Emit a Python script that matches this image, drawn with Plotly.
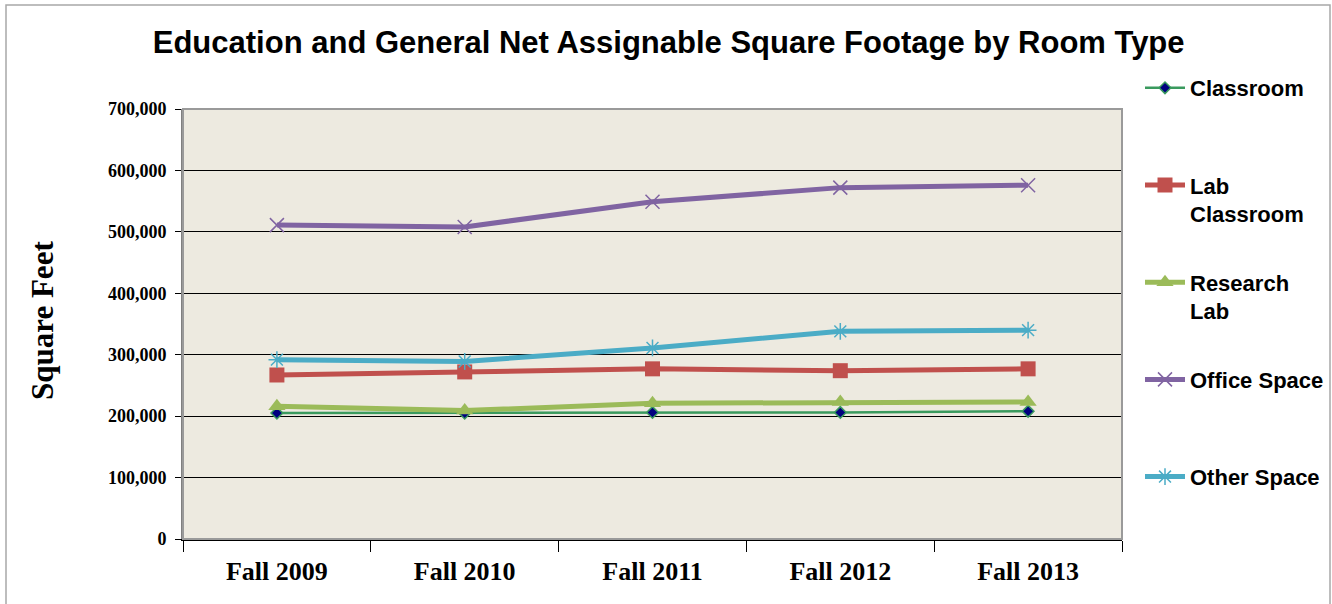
import plotly.graph_objects as go

categories = ["Fall 2009", "Fall 2010", "Fall 2011", "Fall 2012", "Fall 2013"]

classroom = [205000, 205000, 206000, 206000, 208000]
lab_classroom = [267000, 272000, 277000, 274000, 277000]
research_lab = [216000, 209000, 221000, 223000, 223000]
office_space = [511000, 508000, 549000, 572000, 576000]
other_space = [292000, 289000, 311000, 338000, 340000]

series = [
    ("Classroom<br> ", classroom, "#3A9A5E", 2.5,
     dict(symbol="diamond", size=9, color="#000080", line=dict(color="#3A9A5E", width=1.5))),
    ("Lab<br>Classroom", lab_classroom, "#C0504D", 5,
     dict(symbol="square", size=15, color="#C0504D")),
    ("Research<br>Lab", research_lab, "#9BBB59", 5,
     dict(symbol="triangle-up", size=15, color="#9BBB59")),
    ("Office Space<br> ", office_space, "#8064A2", 5,
     dict(symbol="x-thin-open", size=14, color="#8064A2", line=dict(color="#8064A2", width=1.5))),
    ("Other Space<br> ", other_space, "#4BACC6", 5,
     dict(symbol="asterisk-open", size=14, color="#4BACC6", line=dict(color="#4BACC6", width=1.5))),
]

fig = go.Figure()
for i, (name, vals, color, width, marker) in enumerate(series):
    fig.add_trace(go.Scatter(
        x=categories, y=vals, name=name, mode="lines+markers",
        line=dict(color=color, width=width),
        marker=marker, legendgroup=f"g{i}",
    ))

W, H = 1332, 604
L, R, T, B = 183, 210, 109, 65
pw = W - L - R
ph = H - T - B

fig.update_layout(
    width=W, height=H,
    margin=dict(l=L, r=R, t=T, b=B, autoexpand=False),
    paper_bgcolor="white",
    plot_bgcolor="#EDEAE0",
    title=dict(
        text="Education and General Net Assignable Square Footage by Room Type",
        font=dict(family="Liberation Sans, Arial", size=31, color="black", weight="bold"),
        x=0.502, xref="container", xanchor="center",
        y=1 - 42 / H, yref="container", yanchor="middle",
    ),
    showlegend=True,
    legend=dict(
        x=1140 / W, xanchor="left", xref="container",
        y=1 - 67 / H, yanchor="top", yref="container",
        font=dict(family="Liberation Sans, Arial", size=22, color="black", weight="bold"),
        bgcolor="rgba(0,0,0,0)",
        tracegroupgap=37,
        valign="top",
        itemwidth=40,
        maxheight=600,
    ),
    xaxis=dict(
        type="category",
        tickson="boundaries",
        ticks="outside", ticklen=11, tickcolor="black", tickwidth=1,
        showgrid=False,
        showline=True, linecolor="black", linewidth=2,
        tickfont=dict(family="Liberation Serif, Times New Roman", size=26, color="black", weight="bold"),
        ticklabelstandoff=8,
        range=[-0.5, 4.5],
    ),
    yaxis=dict(
        range=[0, 700000],
        tick0=0, dtick=100000,
        tickformat=",d",
        ticks="outside", ticklen=6, tickcolor="black", tickwidth=1,
        showgrid=True, gridcolor="black", gridwidth=1,
        showline=True, linecolor="#808080", linewidth=2,
        zeroline=False,
        tickfont=dict(family="Liberation Serif, Times New Roman", size=18, color="black", weight="bold"),
        ticklabelstandoff=5,
    ),
)

# plot-area frame
fig.add_shape(type="rect", xref="paper", yref="paper", x0=0, x1=1, y0=0, y1=1,
              line=dict(color="#9A9A9A", width=2), layer="above")
# outer chart border
fig.add_shape(type="rect", xref="paper", yref="paper",
              x0=(6 - L) / pw, x1=(1330 - L) / pw,
              y0=-(H + 10 - T - ph) / ph, y1=1 + (T - 5) / ph,
              line=dict(color="#A8A8A8", width=1.5), layer="below")

fig.add_annotation(
    text="Square Feet", textangle=-90,
    xref="paper", yref="paper",
    x=(42 - L) / pw, y=1 - (321 - T) / ph,
    xanchor="center", yanchor="middle", showarrow=False,
    font=dict(family="Liberation Serif, Times New Roman", size=31, color="black", weight="bold"),
)

fig.write_html("out.html")
